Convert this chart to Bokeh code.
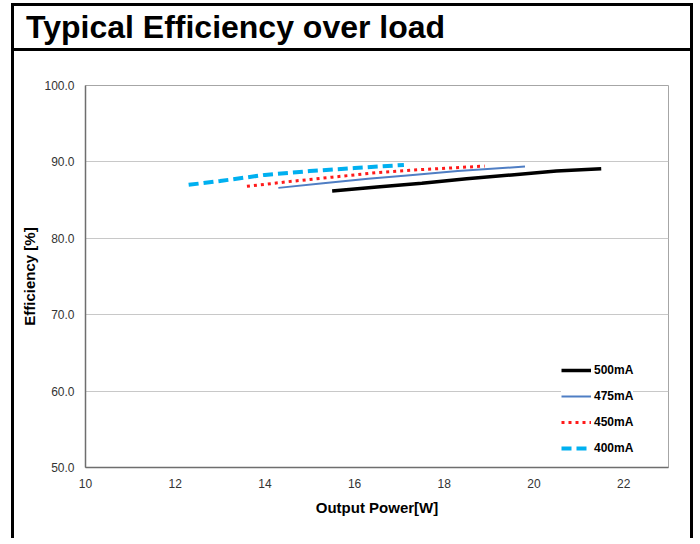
from bokeh.plotting import figure
from bokeh.models import Div, Range1d, Legend, LegendItem, FixedTicker, NumeralTickFormatter
from bokeh.layouts import column
from bokeh.embed import file_html
from bokeh.resources import INLINE

# Data
p500_x = [15.5, 16.5, 17.5, 18.5, 19.5, 20.5, 21.5]
p500_y = [86.2, 86.7, 87.2, 87.8, 88.3, 88.8, 89.1]
p475_x = [14.3, 15.3, 16.3, 17.3, 18.3, 19.8]
p475_y = [86.6, 87.2, 87.8, 88.3, 88.8, 89.4]
p450_x = [13.6, 14.5, 15.5, 16.5, 17.5, 18.9]
p450_y = [86.8, 87.4, 88.0, 88.6, 89.0, 89.45]
p400_x = [12.3, 13.0, 14.0, 15.0, 16.0, 17.1]
p400_y = [87.0, 87.5, 88.3, 88.8, 89.2, 89.6]
x_ticks = [10, 12, 14, 16, 18, 20, 22]
y_ticks = [50, 60, 70, 80, 90, 100]

FONT = "Liberation Sans"

title = Div(
    text="Typical Efficiency over load",
    width=682, height=48,
    margin=(3, 0, 0, 11),
    styles={
        "border": "3px solid black",
        "box-sizing": "border-box",
        "font-family": FONT,
        "font-weight": "bold",
        "font-size": "32px",
        "padding-left": "12px",
        "line-height": "42px",
        "color": "black",
    },
)

p = figure(width=682, height=487, output_backend="svg", toolbar_location=None,
           x_range=Range1d(10, 23), y_range=Range1d(50, 100),
           min_border_left=71, min_border_right=28, min_border_top=34, min_border_bottom=71)
p.styles = {"border-left": "3px solid black", "border-right": "3px solid black"}
p.margin = (0, 0, 0, 11)

p.background_fill_color = "white"
p.border_fill_color = "white"
p.outline_line_color = "#a6a6a6"
p.outline_line_width = 1

p.xgrid.visible = False
p.ygrid.grid_line_color = "#c8c8c8"
p.ygrid.grid_line_width = 1
p.ygrid.ticker = FixedTicker(ticks=y_ticks)

for ax in (p.xaxis[0], p.yaxis[0]):
    ax.axis_line_color = "#6e6e6e"
    ax.axis_line_width = 1.5
    ax.major_tick_line_color = None
    ax.minor_tick_line_color = None
    ax.major_tick_out = 0
    ax.major_tick_in = 0
    ax.major_label_text_font = FONT
    ax.major_label_text_font_size = "12px"
    ax.major_label_text_color = "#333333"
    ax.axis_label_text_font = FONT
    ax.axis_label_text_font_style = "bold"
    ax.axis_label_text_color = "black"

p.xaxis.ticker = FixedTicker(ticks=x_ticks)
p.yaxis.ticker = FixedTicker(ticks=y_ticks)
p.yaxis.formatter = NumeralTickFormatter(format="0.0")
p.xaxis.axis_label = "Output Power[W]"
p.yaxis.axis_label = "Efficiency [%]"
p.xaxis.axis_label_text_font_size = "15px"
p.yaxis.axis_label_text_font_size = "15px"
p.xaxis.major_label_standoff = 11
p.xaxis.axis_label_standoff = 8
p.yaxis.major_label_standoff = 11
p.yaxis.axis_label_standoff = 3

r500 = p.line(p500_x, p500_y, line_color="black", line_width=3.5)
r475 = p.line(p475_x, p475_y, line_color="#4f7ec4", line_width=2)
r450 = p.line(p450_x, p450_y, line_color="#ff1a1a", line_width=3, line_dash="3 4")
r400 = p.line(p400_x, p400_y, line_color="#00b0f0", line_width=4, line_dash="10 5")

legend = Legend(items=[
    LegendItem(label="500mA", renderers=[r500]),
    LegendItem(label="475mA", renderers=[r475]),
    LegendItem(label="450mA", renderers=[r450]),
    LegendItem(label="400mA", renderers=[r400]),
], location=(476, 9))
legend.border_line_color = None
legend.background_fill_color = "white"
legend.background_fill_alpha = 1.0
legend.padding = 0
legend.margin = 0
legend.glyph_width = 30
legend.glyph_height = 20
legend.spacing = 6
legend.label_standoff = 3
legend.label_text_font = FONT
legend.label_text_font_style = "bold"
legend.label_text_font_size = "12px"
legend.label_text_color = "black"
p.add_layout(legend, "center")

layout = column(title, p, spacing=0)
open("out.html", "w").write(file_html(layout, INLINE))
